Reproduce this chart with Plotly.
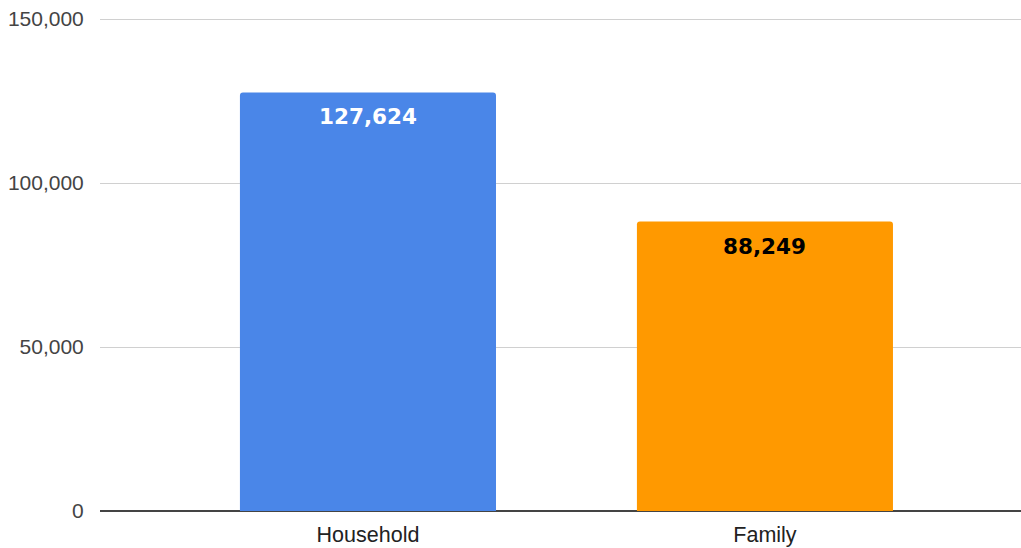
import plotly.graph_objects as go

categories = ["Household", "Family"]
values = [127624, 88249]
bar_colors = ["#4a86e8", "#ff9900"]
label_colors = ["#ffffff", "#000000"]
y_ticks = [0, 50000, 100000, 150000]

fig = go.Figure()
fig.add_trace(
    go.Bar(
        x=categories,
        y=values,
        marker=dict(color=bar_colors, cornerradius=3, line=dict(width=0)),
        width=0.645,
        showlegend=False,
    )
)

# value labels just below the top of each bar
for cat, val, col in zip(categories, values, label_colors):
    fig.add_annotation(
        x=cat,
        y=val,
        text=f"{val:,}",
        showarrow=False,
        yanchor="top",
        yshift=-10,
        font=dict(family="DejaVu Sans", size=21.5, color=col, weight="bold"),
    )

fig.update_layout(
    width=1021,
    height=548,
    margin=dict(l=100, r=0, t=14, b=37),
    plot_bgcolor="white",
    paper_bgcolor="white",
    font=dict(family="Liberation Sans", size=21, color="#444"),
)
fig.update_xaxes(
    range=[-0.675, 1.645],
    showgrid=False,
    showline=False,
    tickfont=dict(color="#222", size=21.5),
    ticks="outside",
    ticklen=4,
    tickcolor="rgba(0,0,0,0)",
)
# a little headroom so the 150,000 gridline is kept
fig.update_yaxes(
    range=[0, 151524],
    tickvals=y_ticks,
    tickformat=",",
    showgrid=True,
    gridcolor="#d0d0d0",
    gridwidth=1,
    zeroline=True,
    zerolinecolor="#444",
    zerolinewidth=2,
    ticks="outside",
    ticklen=11,
    tickcolor="rgba(0,0,0,0)",
)

fig.write_html(
    "out.html",
    config={"displayModeBar": False},
    post_script="document.body.style.margin='0';document.body.style.overflow='hidden';",
)
